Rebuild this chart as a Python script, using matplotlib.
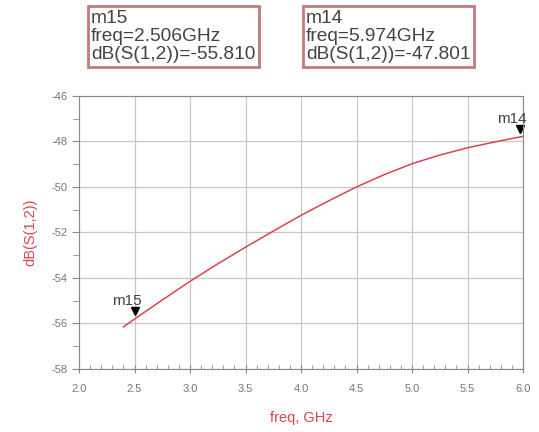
import numpy as np
import matplotlib.pyplot as plt
from matplotlib.ticker import MultipleLocator

plt.rcParams['font.family'] = ['Liberation Sans', 'DejaVu Sans']

# curve
freq = [2.4, 2.5, 2.75, 3.0, 3.25, 3.5, 3.75, 4.0, 4.25, 4.5, 4.75, 5.0, 5.25, 5.5, 5.75, 5.974, 6.0]
s12_db = [-56.15, -55.81, -54.97, -54.15, -53.38, -52.65, -51.94, -51.25, -50.61, -50.0,
          -49.46, -48.98, -48.60, -48.28, -48.02, -47.801, -47.78]

markers = ['m15', 'm14']
marker_freq = [2.506, 5.974]
marker_db = [-55.810, -47.801]

red = '#d9454f'
gray = '#777777'

fig = plt.figure(figsize=(5.39, 4.32), dpi=100)
ax = fig.add_axes([0.1466, 0.146, 0.8238, 0.632])

ax.plot(freq, s12_db, color=red, lw=1.1)

ax.set_xlim(2.0, 6.0)
ax.set_ylim(-58, -46)
ax.xaxis.set_major_locator(MultipleLocator(0.5))
ax.xaxis.set_minor_locator(MultipleLocator(0.1))
ax.yaxis.set_major_locator(MultipleLocator(2))
ax.yaxis.set_minor_locator(MultipleLocator(1))
ax.xaxis.set_major_formatter(plt.FormatStrFormatter('%.1f'))
ax.yaxis.set_major_formatter(plt.FormatStrFormatter('%d'))
ax.grid(True, which='major', color='#c8c8c8', lw=0.9)
for s in ax.spines.values():
    s.set_color('#888888')
ax.tick_params(axis='both', which='major', labelsize=8, labelcolor=gray,
               color='#888888', length=5, direction='out')
ax.tick_params(axis='x', which='major', direction='inout', length=6, pad=8)
ax.tick_params(axis='x', which='minor', direction='in', length=3, color='#888888')
ax.tick_params(axis='y', which='minor', direction='out', length=4, color='#888888')

ax.set_xlabel('freq, GHz', color=red, fontsize=10.5, labelpad=12)
ax.set_ylabel('dB(S(1,2))', color=red, fontsize=10.5, labelpad=10)

for name, fx, fy in zip(markers, marker_freq, marker_db):
    ax.plot(fx, fy + 0.35, marker='v', color='black', ms=6, clip_on=False)
    ax.annotate(name, (fx, fy), xytext=(-17, 10), textcoords='offset points',
                fontsize=11, color='#444444', annotation_clip=False)

box_x = [0.169, 0.568]
for bx, name, fx, fy in zip(box_x, markers, marker_freq, marker_db):
    txt = f'{name}\nfreq={fx:.3f}GHz\ndB(S(1,2))={fy:.3f}'
    fig.text(bx, 0.978, txt, ha='left', va='top', fontsize=13.8, color='#444444',
             linespacing=1.1,
             bbox=dict(boxstyle='square,pad=0.18', fc='white', ec='#c47a80', lw=2))

fig.savefig('out.png', dpi=100)
